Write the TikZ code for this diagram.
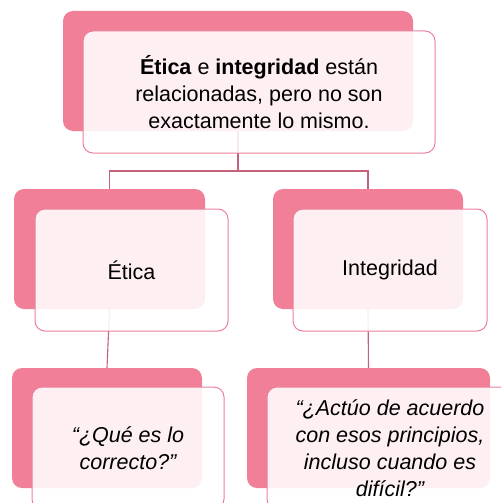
\documentclass[tikz,border=0pt]{standalone}
\usepackage{fontspec}
\setmainfont{Liberation Sans}
\definecolor{backpink}{RGB}{240,127,151}
\definecolor{edgepink}{RGB}{234,128,155}
\definecolor{linkpink}{RGB}{196,98,124}
\begin{document}
\begin{tikzpicture}[x=1pt,y=-1pt,
  backbox/.style={rectangle, rounded corners=10pt, fill=backpink, draw=none, inner sep=0pt},
  frontbox/.style={rectangle, rounded corners=10pt, fill=white, fill opacity=0.88, text opacity=1, draw=edgepink, line width=1pt, inner sep=0pt, align=center, font=\fontsize{21.5}{27}\selectfont},
  link/.style={draw=linkpink, line width=1.1pt}]
\useasboundingbox (0,0) rectangle (501,503);
\begin{scope}
\clip (0,0) rectangle (501,503);
% back boxes
\node[backbox, minimum width=350pt, minimum height=120pt] (tb) at (238,71) {};
\node[backbox, minimum width=191pt, minimum height=120pt] (lb) at (109.5,249) {};
\node[backbox, minimum width=190pt, minimum height=120pt] (rb) at (368,249) {};
\node[backbox, minimum width=190pt, minimum height=120pt] (llb) at (107,428) {};
\node[backbox, minimum width=243pt, minimum height=120pt] (rrb) at (368.5,428) {};
% connectors
\coordinate (j) at (238,171);
\draw[link] (tb.south) -- (j);
\draw[link] (j) -| (lb.north);
\draw[link] (j) -| (rb.north);
\draw[link] (lb.south) -- (llb.north);
\draw[link] (rb.south) -- (rrb.north);
% front boxes
\node[frontbox, minimum width=352pt, minimum height=122pt] (tf) at (259,92)
  {\textbf{Ética} e \textbf{integridad} están\\relacionadas, pero no son\\exactamente lo mismo.};
\node[frontbox, minimum width=193pt, minimum height=122pt] (lf) at (131.5,270) {Ética};
\node[frontbox, minimum width=194pt, minimum height=122pt] (rf) at (390,270) {Integridad};
\node[frontbox, minimum width=192pt, minimum height=122pt] (llf) at (128,448)
  {\itshape “¿Qué es lo\\\itshape correcto?”};
\node[frontbox, minimum width=246pt, minimum height=122pt] (rrf) at (390,448)
  {\itshape “¿Actúo de acuerdo\\\itshape con esos principios,\\\itshape incluso cuando es\\\itshape difícil?”};
\end{scope}
\end{tikzpicture}
\end{document}
